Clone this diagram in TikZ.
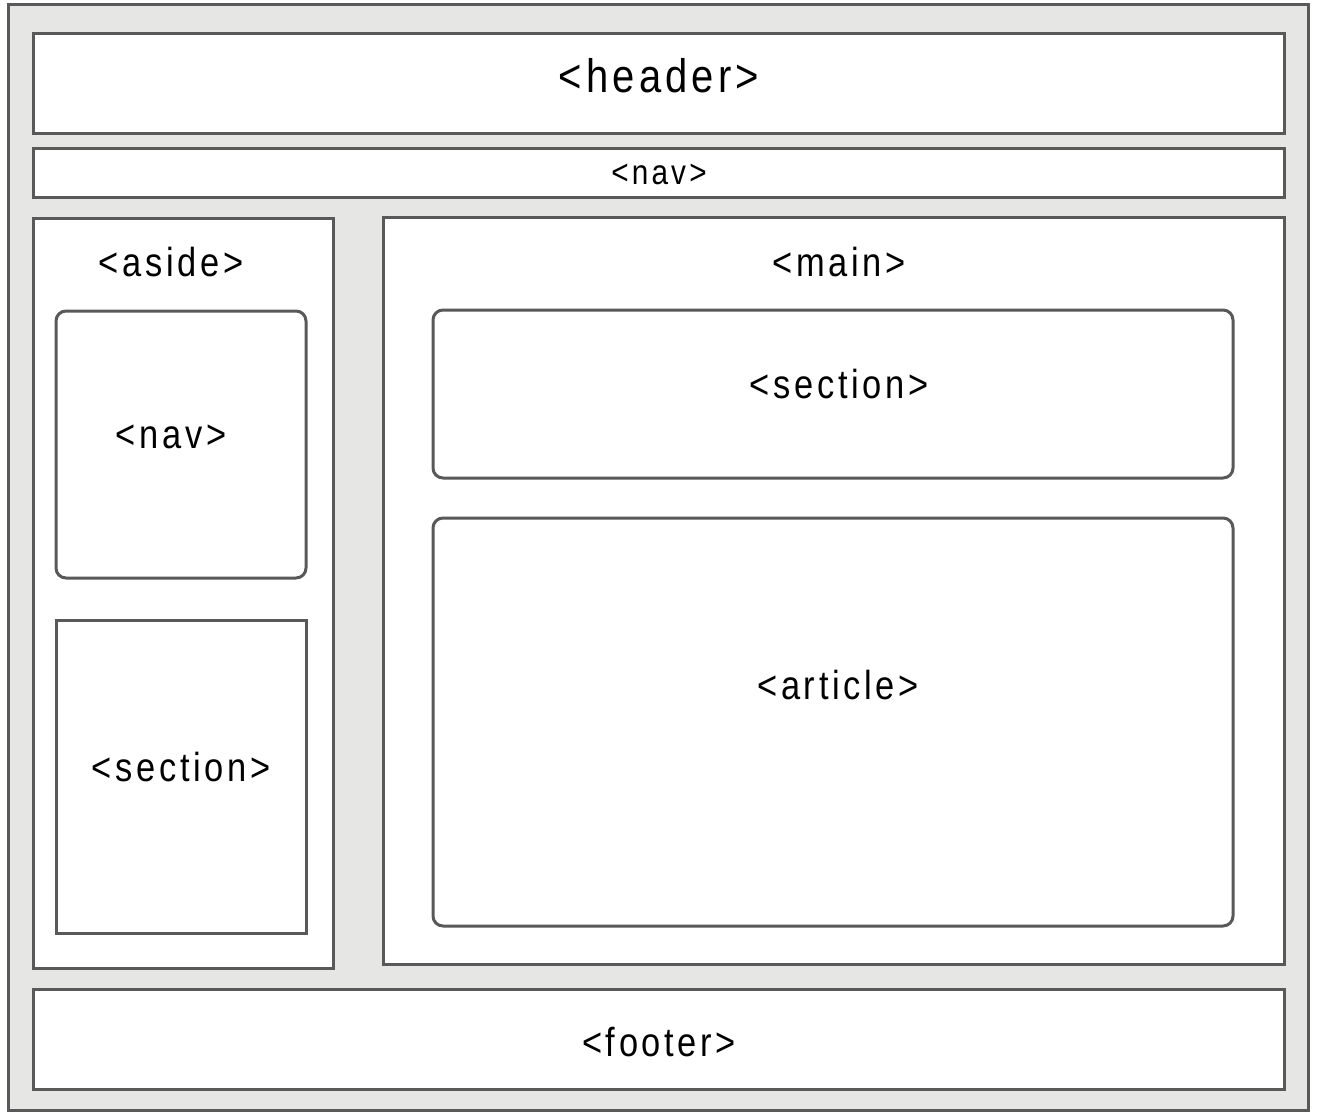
\documentclass[tikz,border=0pt]{standalone}
\usepackage{fontspec}
\setmainfont{Liberation Sans}
\newfontfamily\lblfont[LetterSpace=9,FakeStretch=0.85]{Liberation Sans}
\definecolor{edge}{HTML}{595959}
\definecolor{bg}{HTML}{E6E7E5}
\begin{document}
\begin{tikzpicture}[x=1pt,y=-1pt,
  box/.style={draw=edge, line width=3pt, fill=white},
  rbox/.style={box, rounded corners=10pt},
  lbl/.style={inner sep=0pt, font=\lblfont\fontsize{40.5}{42}\selectfont, text=black}]
\useasboundingbox (0,0) rectangle (1317,1117);
\draw[draw=edge, line width=3pt, fill=bg] (8,4) rectangle (1308,1110);
% boxes
\path[box] (33,33) rectangle (1284,133) node[pos=.5,coordinate](header){};
\path[box] (33,148) rectangle (1284,197) node[pos=.5,coordinate](nav){};
\path[box] (33,218) rectangle (333,968) node[pos=.5,coordinate](aside){};
\path[rbox] (56,311) rectangle (306,578) node[pos=.5,coordinate](asidenav){};
\path[box] (56,620) rectangle (306,933) node[pos=.5,coordinate](asidesec){};
\path[box] (383,217) rectangle (1284,964) node[pos=.5,coordinate](main){};
\path[rbox] (433,310) rectangle (1233,478) node[pos=.5,coordinate](mainsec){};
\path[rbox] (433,518) rectangle (1233,926) node[pos=.5,coordinate](article){};
\path[box] (33,989) rectangle (1284,1089) node[pos=.5,coordinate](footer){};
% labels
\node[lbl, font=\lblfont\fontsize{47}{49}\selectfont] (tHeader) at (659,76) {<header>};
\node[lbl, font=\lblfont\fontsize{35}{37}\selectfont] (tNav) at (659,174) {<nav>};
\node[lbl] (tAside) at (171,262) {<aside>};
\node[lbl] (tAsideNav) at (171,437) {<nav>};
\node[lbl] (tAsideSec) at (181,767) {<section>};
\node[lbl] (tMain) at (839,262) {<main>};
\node[lbl] (tMainSec) at (839,384) {<section>};
\node[lbl] (tArticle) at (838,685) {<article>};
\node[lbl] (tFooter) at (659,1042) {<footer>};
\end{tikzpicture}
\end{document}
